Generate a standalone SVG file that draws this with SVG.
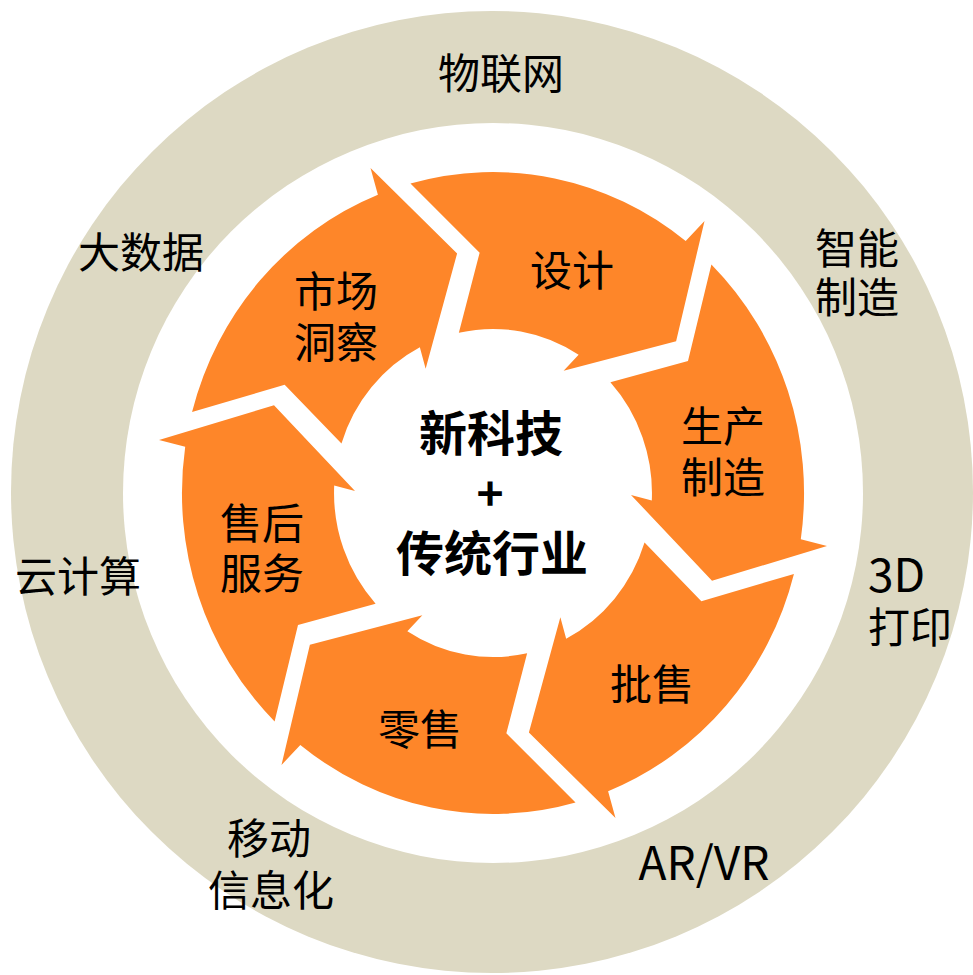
<svg xmlns="http://www.w3.org/2000/svg" width="973" height="975" viewBox="0 0 973 975">
<style>
.ring{fill:#DDD9C3}
.hole{fill:#FFFFFF}
.arrow{fill:#FE8629}
text{font-family:"Noto Sans CJK SC","Noto Sans",sans-serif;fill:#000000}
.lbl{font-size:42px;text-anchor:middle}
.out{font-size:42px;text-anchor:middle}
.lat{font-size:46px}
.ctr{font-size:48px;font-weight:bold;text-anchor:middle}
</style>
<defs>
<path id="arrow" d="M218.4,-221.4 A311,311 0 0 1 307.8,44.8 L334,51.4 L219,85 L138,1.9 L158.8,7.2 A159,159 0 0 0 117.4,-107.2 L195,-128 Z"/>
</defs>
<rect x="0" y="0" width="973" height="975" fill="#FFFFFF"/>
<g id="outer-ring">
<circle class="ring" cx="492" cy="492" r="481"/>
<circle class="hole" cx="493" cy="493" r="370"/>
</g>
<g id="connectors"></g>
<g id="node-market">
<use href="#arrow" class="arrow" transform="translate(493,493) scale(1,1.032) rotate(240)"/>
<text class="lbl"><tspan x="336" y="307">市场</tspan><tspan x="336" y="358">洞察</tspan></text>
</g>
<g id="node-design">
<use href="#arrow" class="arrow" transform="translate(493,493) scale(1,1.032) rotate(300)"/>
<text class="lbl" x="572" y="286">设计</text>
</g>
<g id="node-production">
<use href="#arrow" class="arrow" transform="translate(493,493) scale(1,1.032)"/>
<text class="lbl"><tspan x="723" y="442">生产</tspan><tspan x="723" y="493">制造</tspan></text>
</g>
<g id="node-wholesale">
<use href="#arrow" class="arrow" transform="translate(493,493) scale(1,1.032) rotate(60)"/>
<text class="lbl" x="652" y="700">批售</text>
</g>
<g id="node-retail">
<use href="#arrow" class="arrow" transform="translate(493,493) scale(1,1.032) rotate(120)"/>
<text class="lbl" x="420" y="745">零售</text>
</g>
<g id="node-aftersales">
<use href="#arrow" class="arrow" transform="translate(493,493) scale(1,1.032) rotate(180)"/>
<text class="lbl"><tspan x="262" y="539">售后</tspan><tspan x="262" y="589">服务</tspan></text>
</g>
<g id="node-center">
<text class="ctr"><tspan x="491" y="451">新科技</tspan><tspan x="490" y="511" style="font-size:46px">+</tspan><tspan x="492" y="571">传统行业</tspan></text>
</g>
<g id="tech-iot"><text class="out" x="501" y="89">物联网</text></g>
<g id="tech-bigdata"><text class="out" x="141" y="268">大数据</text></g>
<g id="tech-smart"><text class="out"><tspan x="857" y="264">智能</tspan><tspan x="857" y="313">制造</tspan></text></g>
<g id="tech-cloud"><text class="out" x="78" y="592">云计算</text></g>
<g id="tech-3d"><text class="out" style="text-anchor:start"><tspan class="lat" x="868" y="592">3D</tspan><tspan x="868" y="643">打印</tspan></text></g>
<g id="tech-mobile"><text class="out"><tspan x="269" y="854">移动</tspan><tspan x="271" y="906">信息化</tspan></text></g>
<g id="tech-arvr"><text class="out lat" x="704" y="880">AR/VR</text></g>
</svg>
